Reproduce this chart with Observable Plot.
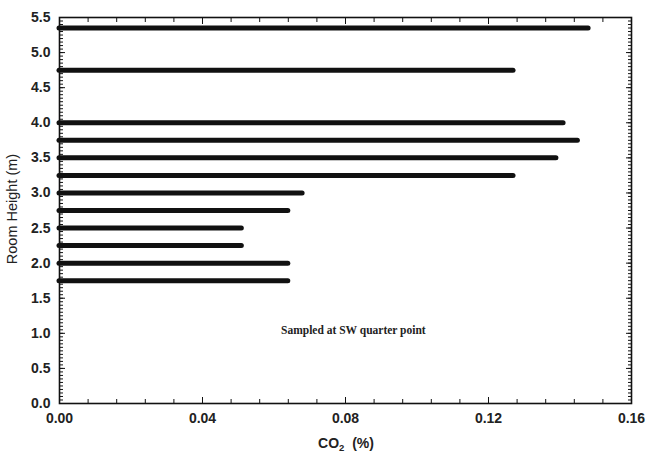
<!DOCTYPE html>
<html>
<head>
<meta charset="utf-8">
<script src="https://cdn.jsdelivr.net/npm/d3@7"></script>
<script src="https://cdn.jsdelivr.net/npm/@observablehq/plot@0.6"></script>
<style>
  html, body { margin: 0; padding: 0; background: #fff; }
  #chart svg { display: block; }
</style>
</head>
<body>
<div id="chart"></div>
<script>
// Room height (m) of each sampling level
const heights = [5.35, 4.75, 4.0, 3.75, 3.5, 3.25, 3.0, 2.75, 2.5, 2.25, 2.0, 1.75];
// CO2 concentration (%) at each height
const co2 = [0.148, 0.127, 0.141, 0.145, 0.139, 0.127, 0.068, 0.064, 0.051, 0.051, 0.064, 0.064];
// Tick values
const xMajorTicks = [0, 0.04, 0.08, 0.12, 0.16];
const xMinorTicks = d3.range(0, 0.1601, 0.008);
const yMajorTicks = d3.range(0, 5.51, 0.5);
const yMinorTicks = d3.range(0, 5.501, 0.05);
const note = "Sampled at SW quarter point";

const data = heights.map((h, i) => ({h, co2: co2[i]}));

const font = "'Liberation Sans', Arial, Helvetica, sans-serif";

const chart = Plot.plot({
  width: 651,
  height: 455,
  marginLeft: 59,
  marginRight: 20,
  marginTop: 17,
  marginBottom: 52,
  style: {fontFamily: font, fontSize: "14px", color: "#111", background: "#fff"},
  x: {domain: [0, 0.16]},
  y: {domain: [0, 5.5]},
  marks: [
    Plot.frame({stroke: "#111", strokeWidth: 1.6}),
    // minor ticks
    Plot.axisX(xMinorTicks, {anchor: "bottom", tickSize: -4, tickFormat: () => "", label: null, stroke: "#111"}),
    Plot.axisX(xMinorTicks, {anchor: "top", tickSize: -4, tickFormat: () => "", label: null, stroke: "#111"}),
    Plot.axisY(yMinorTicks, {anchor: "left", tickSize: -4, tickFormat: () => "", label: null, stroke: "#111"}),
    Plot.axisY(yMinorTicks, {anchor: "right", tickSize: -4, tickFormat: () => "", label: null, stroke: "#111"}),
    // major ticks with labels
    Plot.axisX(xMajorTicks, {anchor: "bottom", tickSize: -6, tickPadding: 16, tickFormat: d3.format(".2f"),
      fontSize: 14, fontWeight: "bold", fill: "#222", label: null}),
    Plot.axisY(yMajorTicks, {anchor: "left", tickSize: -6, tickPadding: 15, tickFormat: d3.format(".1f"),
      fontSize: 14, fontWeight: "bold", fill: "#222", label: null}),
    Plot.axisY(yMajorTicks, {anchor: "right", tickSize: -6, tickFormat: () => "", label: null}),
    Plot.axisX(xMajorTicks, {anchor: "top", tickSize: -6, tickFormat: () => "", label: null}),
    // bars
    Plot.ruleY(data, {y: "h", x1: 0, x2: "co2", stroke: "#111", strokeWidth: 5, strokeLinecap: "round"}),
    // annotation
    Plot.text([note], {x: 0.0822, y: 1.04, text: d => d, fontFamily: "'Liberation Serif', 'Times New Roman', serif",
      fontSize: 11.5, fontWeight: "bold", fill: "#222"})
  ]
});

const svg = d3.select(chart);
// Axis titles
svg.append("text")
  .attr("transform", "translate(13,209) rotate(-90)")
  .attr("text-anchor", "middle")
  .attr("dominant-baseline", "middle")
  .style("font-family", font)
  .style("font-size", "14.5px")
  .attr("fill", "#222")
  .text("Room Height (m)");

const xt = svg.append("text")
  .attr("x", 346)
  .attr("y", 448)
  .attr("text-anchor", "middle")
  .style("font-family", font)
  .style("font-size", "14px")
  .style("font-weight", "bold")
  .attr("fill", "#222");
xt.append("tspan").text("CO");
xt.append("tspan").attr("dy", 3).style("font-size", "9.5px").text("2");
xt.append("tspan").attr("dy", -3).text("  (%)").attr("xml:space", "preserve");

document.getElementById("chart").appendChild(chart);
</script>
</body>
</html>
